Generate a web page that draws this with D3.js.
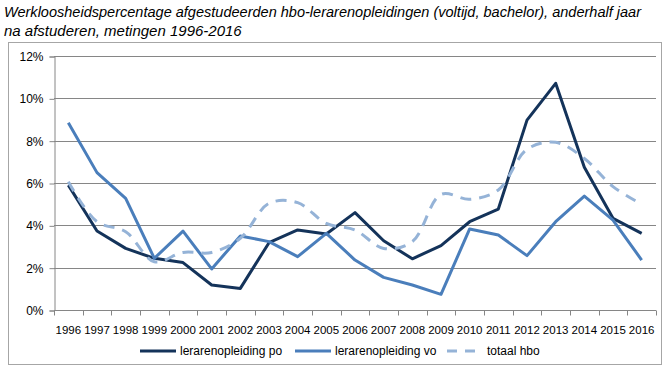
<!DOCTYPE html>
<html>
<head>
<meta charset="utf-8">
<script src="https://cdn.jsdelivr.net/npm/d3@7"></script>
<style>
  body { margin: 0; background: #fff; }
  text { font-family: "Liberation Sans", Arial, sans-serif; fill: #000; }
</style>
</head>
<body>
<div id="chart"></div>
<script>
// --- Data ---
const years = ['1996','1997','1998','1999','2000','2001','2002','2003','2004','2005','2006',
               '2007','2008','2009','2010','2011','2012','2013','2014','2015','2016'];
const po     = [5.9, 3.73, 2.91, 2.44, 2.24, 1.18, 1.02, 3.18, 3.78, 3.59, 4.6,
                3.27, 2.42, 3.04, 4.17, 4.77, 8.97, 10.71, 6.74, 4.33, 3.62];
const vo     = [8.85, 6.49, 5.27, 2.44, 3.73, 1.94, 3.5, 3.23, 2.52, 3.62, 2.36,
                1.54, 1.18, 0.74, 3.83, 3.54, 2.57, 4.17, 5.38, 4.25, 2.36];
const totaal = [6.06, 4.17, 3.7, 2.28, 2.72, 2.72, 3.39, 5.04, 5.07, 4.09, 3.78,
                2.91, 3.23, 5.46, 5.23, 5.67, 7.59, 7.92, 7.16, 5.83, 5.0];
const yTicks = [0, 2, 4, 6, 8, 10, 12];
const titleLines = [
  'Werkloosheidspercentage afgestudeerden hbo-lerarenopleidingen (voltijd, bachelor), anderhalf jaar',
  'na afstuderen, metingen 1996-2016'
];

const series = [
  { name: 'lerarenopleiding po', values: po, color: '#14335a', dash: null, curve: d3.curveLinear },
  { name: 'lerarenopleiding vo', values: vo, color: '#4a7ebb', dash: null, curve: d3.curveLinear },
  { name: 'totaal hbo', values: totaal, color: '#95b3d7', dash: '11,8', curve: d3.curveCatmullRom.alpha(0.5) }
];

// --- Layout ---
const width = 666, height = 370;
const plot = { left: 54, right: 656, top: 56, bottom: 310 };

const svg = d3.select('#chart').append('svg')
    .attr('width', width)
    .attr('height', height);

// title
svg.append('g').selectAll('text')
    .data(titleLines)
    .join('text')
    .attr('x', 4)
    .attr('y', (d, i) => 17 + i * 19)
    .attr('font-size', 15)
    .attr('font-style', 'italic')
    .attr('textLength', (d, i) => i === 0 ? 637 : null)
    .attr('lengthAdjust', 'spacingAndGlyphs')
    .text(d => d);

// frame
svg.append('rect')
    .attr('x', 8.5).attr('y', 42.5)
    .attr('width', 653).attr('height', 322)
    .attr('fill', 'none')
    .attr('stroke', '#a6a6a6');

// --- Scales ---
const x = d3.scaleBand().domain(years).range([plot.left, plot.right]);
const y = d3.scaleLinear().domain([0, 12]).range([plot.bottom, plot.top]);

// gridlines
svg.append('g').selectAll('line')
    .data(yTicks.filter(d => d > 0))
    .join('line')
    .attr('x1', plot.left).attr('x2', plot.right)
    .attr('y1', d => Math.round(y(d)) + 0.5)
    .attr('y2', d => Math.round(y(d)) + 0.5)
    .attr('stroke', '#868686');

// y axis
const yAxis = svg.append('g')
    .attr('transform', `translate(${plot.left + 0.5},0.5)`)
    .call(d3.axisLeft(y).tickValues(yTicks).tickSize(5).tickPadding(6)
      .tickFormat(d => d + '%'));
yAxis.selectAll('path, line').attr('stroke', '#868686');
yAxis.selectAll('text').attr('font-size', 12).attr('font-family', '"Liberation Sans", Arial, sans-serif');

// x axis (ticks between categories)
const xAxisG = svg.append('g')
    .attr('transform', `translate(0,${Math.round(plot.bottom) + 0.5})`);
xAxisG.append('line')
    .attr('x1', plot.left).attr('x2', plot.right)
    .attr('stroke', '#868686');
xAxisG.selectAll('.tick')
    .data(years.concat(['end']))
    .join('line')
    .attr('x1', (d, i) => Math.round(plot.left + i * x.step()) + 0.5)
    .attr('x2', (d, i) => Math.round(plot.left + i * x.step()) + 0.5)
    .attr('y1', 0).attr('y2', 5)
    .attr('stroke', '#868686');
xAxisG.selectAll('text')
    .data(years)
    .join('text')
    .attr('x', d => x(d) + x.bandwidth() / 2)
    .attr('y', 23)
    .attr('text-anchor', 'middle')
    .attr('font-size', 11.5)
    .text(d => d);

// --- Lines ---
const lines = svg.append('g');
series.forEach(s => {
  const line = d3.line()
      .x((d, i) => x(years[i]) + x.bandwidth() / 2)
      .y(d => y(d))
      .curve(s.curve);
  lines.append('path')
      .datum(s.values)
      .attr('d', line)
      .attr('fill', 'none')
      .attr('stroke', s.color)
      .attr('stroke-width', 3)
      .attr('stroke-dasharray', s.dash)
      .attr('stroke-linejoin', 'round');
});

// --- Legend ---
const legendX = [140, 295, 447];
const legend = svg.append('g');
series.forEach((s, i) => {
  const g = legend.append('g').attr('transform', `translate(${legendX[i]},351)`);
  g.append('line')
      .attr('x1', 0).attr('x2', 36)
      .attr('stroke', s.color)
      .attr('stroke-width', 3)
      .attr('stroke-dasharray', s.dash ? '10,8' : null);
  g.append('text')
      .attr('x', 40)
      .attr('y', 4)
      .attr('font-size', 12)
      .text(s.name);
});
</script>
</body>
</html>
